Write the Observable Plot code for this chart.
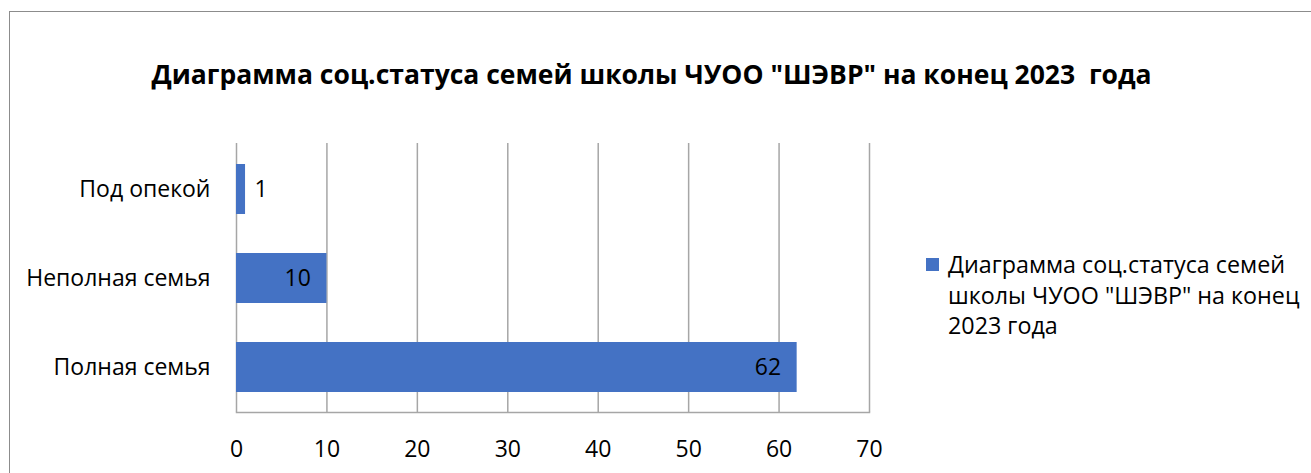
<!DOCTYPE html>
<html>
<head>
<meta charset="utf-8">
<script src="https://cdn.jsdelivr.net/npm/d3@7"></script>
<script src="https://cdn.jsdelivr.net/npm/@observablehq/plot@0.6"></script>
<style>
  html, body { margin: 0; padding: 0; background: #fff; }
  #wrap { position: relative; width: 1311px; height: 473px; overflow: hidden; font-family: "Open Sans", sans-serif; color: #000; }
  #border { position: absolute; left: 9px; top: 11px; width: 1400px; height: 600px; border: 1.5px solid #8c8c8c; box-sizing: border-box; }
  #title { position: absolute; left: 0; width: 1303px; top: 56px; text-align: center; font-weight: bold; font-size: 26.5px; line-height: 36px; white-space: pre; }
  #chart { position: absolute; left: 0; top: 120px; }
  #legend { position: absolute; left: 926px; top: 249px; width: 385px; font-size: 23.3px; line-height: 30.5px; }
  #legend .sw { position: absolute; left: 0; top: 9px; width: 13px; height: 13px; }
  #legend .tx { position: absolute; left: 22px; top: 0; width: 360px; }
</style>
</head>
<body>
<div id="wrap">
  <div id="border"></div>
  <div id="title"></div>
  <div id="chart"></div>
  <div id="legend"><div class="sw"></div><div class="tx"></div></div>
</div>
<script>
const titleText = "Диаграмма соц.статуса семей школы ЧУОО \"ШЭВР\" на конец 2023  года";
const seriesName = "Диаграмма соц.статуса семей школы ЧУОО \"ШЭВР\" на конец 2023 года";
const categories = ["Полная семья", "Неполная семья", "Под опекой"];
const values = [62, 10, 1];
const xTicks = [0, 10, 20, 30, 40, 50, 60, 70];
const barColor = "#4472C4";

const data = categories.map((c, i) => ({category: c, value: values[i]}));
const xMax = xTicks[xTicks.length - 1];
const inside = data.filter(d => d.value / xMax > 0.05);
const outside = data.filter(d => d.value / xMax <= 0.05);

document.getElementById("title").textContent = titleText;
document.querySelector("#legend .sw").style.background = barColor;
document.querySelector("#legend .tx").textContent = seriesName;

const chart = Plot.plot({
  width: 900,
  height: 353,
  marginLeft: 236,
  marginRight: 31,
  marginTop: 23,
  marginBottom: 61,
  style: {fontFamily: "'Open Sans', sans-serif", fontSize: "23px", color: "#000", background: "transparent"},
  x: {domain: [0, xMax]},
  y: {domain: [...categories].reverse(), paddingInner: 0.44, paddingOuter: 0.22},
  marks: [
    Plot.gridX(xTicks, {stroke: "#a6a6a6", strokeOpacity: 1, strokeWidth: 1.5}),
    Plot.frame({anchor: "bottom", stroke: "#a6a6a6", strokeWidth: 1.5}),
    Plot.barX(data, {x: "value", y: "category", fill: barColor}),
    Plot.text(inside, {x: "value", y: "category", text: d => String(d.value), textAnchor: "end", dx: -16, fill: "#000", fontSize: 23}),
    Plot.text(outside, {x: "value", y: "category", text: d => String(d.value), textAnchor: "start", dx: 9, fill: "#000", fontSize: 23}),
    Plot.axisX({ticks: xTicks, tickSize: 0, tickPadding: 28, label: null, fontSize: 23, fill: "#000"}),
    Plot.axisY({tickSize: 0, tickPadding: 26, label: null, fontSize: 23, fill: "#000"})
  ]
});
document.getElementById("chart").appendChild(chart);
</script>
</body>
</html>
